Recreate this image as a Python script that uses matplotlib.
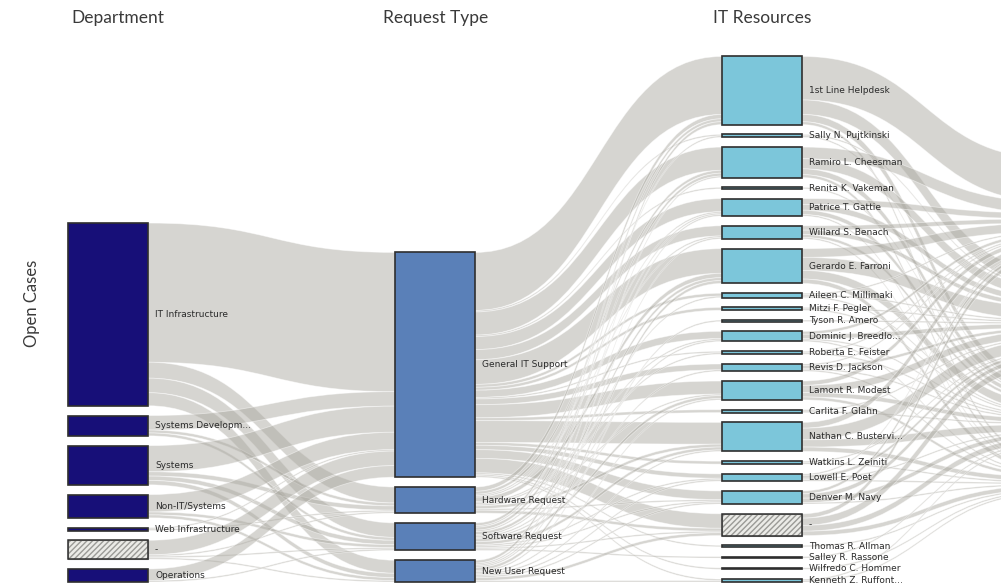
import matplotlib
matplotlib.use("Agg")
import matplotlib.pyplot as plt
from matplotlib.path import Path
from matplotlib.patches import PathPatch, Rectangle

# Nodes per stage
departments = ["IT Infrastructure", "Systems Developm...", "Systems", "Non-IT/Systems",
               "Web Infrastructure", "-", "Operations"]
request_types = ["General IT Support", "Hardware Request", "Software Request", "New User Request"]
resources = ["1st Line Helpdesk", "Sally N. Pujtkinski", "Ramiro L. Cheesman", "Renita K. Vakeman",
             "Patrice T. Gattie", "Willard S. Benach", "Gerardo E. Farroni", "Aileen C. Millimaki",
             "Mitzi F. Pegler", "Tyson R. Amero", "Dominic J. Breedlo...", "Roberta E. Feister",
             "Revis D. Jackson", "Lamont R. Modest", "Carlita F. Glahn", "Nathan C. Bustervi...",
             "Watkins L. Zeiniti", "Lowell E. Poet", "Denver M. Navy", "-", "Thomas R. Allman",
             "Salley R. Rassone", "Wilfredo C. Hommer", "Kenneth Z. Ruffont..."]
priorities = ["1 - Critical", "2 - High", "3 - Moderate", "4 - Low"]

# open cases: department -> request type (cols: General, Hardware, Software, New User)
dept_to_request = [
    [96, 11, 10, 9],
    [10, 2, 2, 0],
    [18, 3, 3, 3],
    [12, 0, 2, 2],
    [1, 1, 0, 0],
    [10, 1, 1, 1],
    [8, 0, 1, 0],
]

# open cases: resource <- request type (cols: General, Hardware, Software, New User)
resource_from_request = [
    [40, 3, 2, 2], [1, 0, 1, 0], [16, 2, 2, 1], [1, 0, 0, 0], [9, 1, 1, 1], [7, 1, 0, 1],
    [17, 3, 2, 2], [2, 0, 1, 0], [2, 0, 0, 0], [0, 0, 0, 1], [5, 1, 1, 0], [1, 1, 0, 0],
    [4, 0, 1, 0], [9, 1, 2, 1], [2, 0, 0, 0], [15, 2, 2, 1], [2, 0, 0, 0], [3, 0, 1, 1],
    [6, 1, 1, 1], [10, 2, 1, 2], [1, 0, 0, 0], [0, 0, 1, 0], [1, 0, 0, 0], [1, 0, 0, 1],
]

# open cases: resource -> priority
resource_to_priority = [
    [30, 10, 5, 2], [0, 1, 1, 0], [8, 7, 4, 2], [0, 0, 1, 0], [4, 4, 3, 1], [3, 3, 2, 1],
    [6, 9, 6, 3], [1, 1, 1, 0], [0, 1, 1, 0], [0, 1, 0, 0], [2, 3, 1, 1], [1, 0, 1, 0],
    [1, 2, 1, 1], [3, 5, 3, 2], [0, 1, 1, 0], [4, 8, 5, 3], [0, 1, 0, 1], [1, 2, 1, 1],
    [2, 3, 3, 1], [3, 5, 4, 3], [0, 0, 0, 1], [0, 0, 1, 0], [0, 0, 0, 1], [0, 0, 1, 1],
]

SCALE = 1.45      # px per case
GAP = 9.8
BOTTOM = 582
NODE_W = 80
COL_X = [68, 395, 722, 1049]

RIBBON = "#aaa8a0"
EDGE = "#2e2e2e"
COLORS = ["#170f78", "#5a80b8", "#7cc6da", "#7cc6da"]


def stack(totals, top=None, gap=GAP):
    heights = [t * SCALE for t in totals]
    if top is None:
        top = BOTTOM - sum(heights) - gap * (len(heights) - 1)
    pos, y = [], top
    for h in heights:
        pos.append((y, y + h))
        y += h + gap
    return pos


def transpose(m):
    return [list(r) for r in zip(*m)]


request_to_resource = transpose(resource_from_request)

dept_tot = [sum(r) for r in dept_to_request]
req_tot = [sum(c) for c in zip(*dept_to_request)]
res_tot = [sum(r) for r in resource_from_request]
pri_tot = [sum(c) for c in zip(*resource_to_priority)]

dept_pos = stack(dept_tot)
req_pos = stack(req_tot)
res_pos = stack(res_tot)
pri_pos = stack(pri_tot, top=158, gap=12)

fig = plt.figure(figsize=(10.01, 5.85), dpi=100)
ax = fig.add_axes([0, 0, 1, 1])
ax.set_xlim(0, 1001)
ax.set_ylim(585, 0)
ax.axis("off")


def ribbon(x0, y0a, y0b, x1, y1a, y1b):
    xm = (x0 + x1) / 2
    verts = [(x0, y0a), (xm, y0a), (xm, y1a), (x1, y1a), (x1, y1b),
             (xm, y1b), (xm, y0b), (x0, y0b), (x0, y0a)]
    codes = [Path.MOVETO, Path.CURVE4, Path.CURVE4, Path.CURVE4, Path.LINETO,
             Path.CURVE4, Path.CURVE4, Path.CURVE4, Path.CLOSEPOLY]
    ax.add_patch(PathPatch(Path(verts, codes), facecolor=RIBBON, alpha=0.48,
                           edgecolor="white", lw=0.6, zorder=1))


def links(flows, src_pos, dst_pos, xs, xd):
    # flows[i][j] from source i to target j
    src_off = [p[0] for p in src_pos]
    dst_off = [p[0] for p in dst_pos]
    for i, row in enumerate(flows):
        for j, v in enumerate(row):
            if v == 0:
                continue
            h = v * SCALE
            # incoming offset follows source order
            y0 = src_off[i]
            y1 = dst_off[j] + sum(flows[k][j] for k in range(i)) * SCALE
            ribbon(xs, y0, y0 + h, xd, y1, y1 + h)
            src_off[i] += h


links(dept_to_request, dept_pos, req_pos, COL_X[0] + NODE_W, COL_X[1])
links(request_to_resource, req_pos, res_pos, COL_X[1] + NODE_W, COL_X[2])
links(resource_to_priority, res_pos, pri_pos, COL_X[2] + NODE_W, COL_X[3])


def nodes(names, pos, x, color, labels=True):
    for name, (y0, y1) in zip(names, pos):
        if name == "-":
            ax.add_patch(Rectangle((x, y0), NODE_W, y1 - y0, facecolor="#ebebe7",
                                   edgecolor="#9a9a96", hatch="//////", lw=0.8, zorder=3))
            ax.add_patch(Rectangle((x, y0), NODE_W, y1 - y0, facecolor="none",
                                   edgecolor=EDGE, lw=1.1, zorder=3))
        else:
            ax.add_patch(Rectangle((x, y0), NODE_W, y1 - y0, facecolor=color,
                                   edgecolor=EDGE, lw=1.2, zorder=3))
        if labels:
            ax.text(x + NODE_W + 7, (y0 + y1) / 2, name, fontsize=6.5, color="#2b2b2b",
                    va="center", ha="left", family="DejaVu Sans", zorder=4)


nodes(departments, dept_pos, COL_X[0], COLORS[0])
nodes(request_types, req_pos, COL_X[1], COLORS[1])
nodes(resources, res_pos, COL_X[2], COLORS[2])
nodes(priorities, pri_pos, COL_X[3], COLORS[3], labels=False)

headers = ["Department", "Request Type", "IT Resources"]
header_x = [118, 436, 762]
for name, x in zip(headers, header_x):
    ax.text(x, 18, name, fontsize=12.5, color="#3a3a3a", ha="center",
            va="center", family="Lato")

ax.text(32, 303, "Open Cases", rotation=90, fontsize=12, color="#3a3a3a",
        ha="center", va="center", family="Lato")

fig.savefig("out.png", dpi=100)
